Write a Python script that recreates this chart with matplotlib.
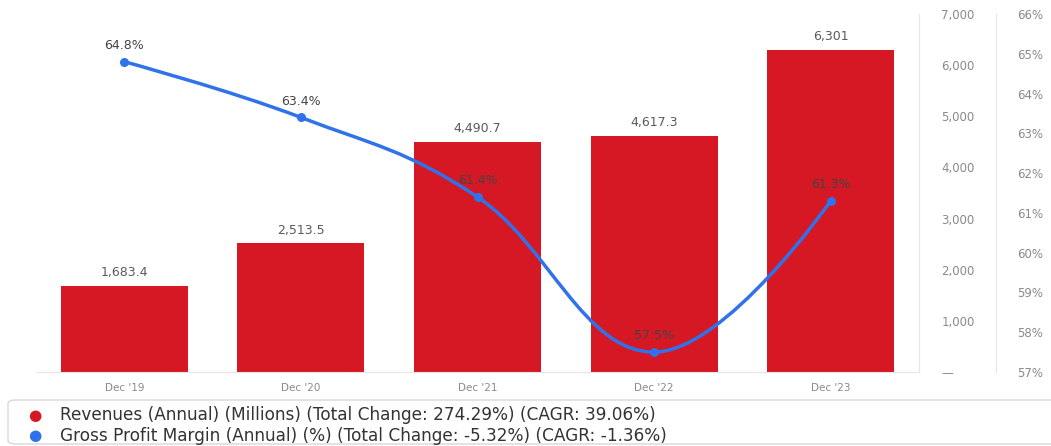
import numpy as np
import matplotlib
matplotlib.use('Agg')
import matplotlib.pyplot as plt
from matplotlib.patches import FancyBboxPatch
from matplotlib.path import Path
from matplotlib.patches import PathPatch
from matplotlib.ticker import FuncFormatter

# --- data ---
categories = ["Dec '19", "Dec '20", "Dec '21", "Dec '22", "Dec '23"]
revenues = [1683.4, 2513.5, 4490.7, 4617.3, 6301]
revenue_labels = ["1,683.4", "2,513.5", "4,490.7", "4,617.3", "6,301"]
gross_margin = [64.8, 63.4, 61.4, 57.5, 61.3]
legend_texts = [
    "Revenues (Annual) (Millions) (Total Change: 274.29%) (CAGR: 39.06%)",
    "Gross Profit Margin (Annual) (%) (Total Change: -5.32%) (CAGR: -1.36%)",
]

RED = '#D51823'
BLUE = '#2F72EA'
GRAY = '#5a5a5a'
plt.rcParams['font.family'] = ['DejaVu Sans']


def spline_path(xs, ys, smoothing=1.5):
    # highcharts-style spline: bezier control points per point
    n = len(xs)
    verts = [(xs[0], ys[0])]
    codes = [Path.MOVETO]
    conts = []
    for i in range(n):
        if i == 0 or i == n - 1:
            conts.append(((xs[i], ys[i]), (xs[i], ys[i])))
            continue
        lx, ly = xs[i - 1], ys[i - 1]
        nx, ny = xs[i + 1], ys[i + 1]
        x, y = xs[i], ys[i]
        d = smoothing + 1
        lcx = (smoothing * x + lx) / d
        lcy = (smoothing * y + ly) / d
        rcx = (smoothing * x + nx) / d
        rcy = (smoothing * y + ny) / d
        if rcx != lcx:
            corr = (rcy - lcy) * (rcx - x) / (rcx - lcx) + y - rcy
            lcy += corr
            rcy += corr
        if lcy > max(ly, y):
            lcy = max(ly, y); rcy = 2 * y - lcy
        elif lcy < min(ly, y):
            lcy = min(ly, y); rcy = 2 * y - lcy
        if rcy > max(ny, y):
            rcy = max(ny, y); lcy = 2 * y - rcy
        elif rcy < min(ny, y):
            rcy = min(ny, y); lcy = 2 * y - rcy
        conts.append(((lcx, lcy), (rcx, rcy)))
    for i in range(1, n):
        verts += [conts[i - 1][1], conts[i][0], (xs[i], ys[i])]
        codes += [Path.CURVE4] * 3
    return Path(verts, codes)


fig = plt.figure(figsize=(10.51, 4.46), dpi=100)
ax = fig.add_axes([36 / 1051, 1 - 372 / 446, (919 - 36) / 1051, (372 - 14) / 446])
ax2 = ax.twinx()

x = np.arange(len(categories))
ax.bar(x, revenues, width=0.72, color=RED, zorder=2)
for xi, v, lab in zip(x, revenues, revenue_labels):
    ax.annotate(lab, (xi, v), xytext=(0, 5), textcoords='offset points',
                ha='center', va='bottom', fontsize=9, color=GRAY)

ax.set_xlim(-0.5, len(categories) - 0.5)
ax.set_ylim(0, 7000)
ax.set_yticks(np.arange(0, 7001, 1000))
ax.yaxis.set_major_formatter(FuncFormatter(lambda v, p: '—' if v == 0 else f'{v:,.0f}'))
ax.yaxis.tick_right()
ax.tick_params(axis='y', length=0, pad=16, labelsize=8.5, labelcolor='#8a8a8a')
ax.set_xticks(x)
ax.set_xticklabels(categories)
ax.tick_params(axis='x', length=0, pad=8, labelsize=7.5, labelcolor='#8a8a8a')
for s in ['top', 'left']:
    ax.spines[s].set_visible(False)
ax.spines['right'].set_color('#e6e6e6')
ax.spines['bottom'].set_color('#e6e6e6')

ax2.set_ylim(57, 66)
ax2.set_yticks(np.arange(57, 67, 1))
ax2.yaxis.set_major_formatter(FuncFormatter(lambda v, p: f'{v:.0f}%'))
ax2.tick_params(axis='y', length=0, pad=15, labelsize=8.5, labelcolor='#8a8a8a')
ax2.spines['right'].set_position(('outward', 77 * 0.72))
ax2.spines['right'].set_color('#e6e6e6')
for s in ['top', 'left', 'bottom']:
    ax2.spines[s].set_visible(False)

path = spline_path(list(x.astype(float)), gross_margin)
ax2.add_patch(PathPatch(path, facecolor='none', edgecolor=BLUE, lw=2.5, zorder=3))
ax2.scatter(x, gross_margin, s=30, color=BLUE, zorder=4)
for xi, v in zip(x, gross_margin):
    ax2.annotate(f'{v}%', (xi, v), xytext=(0, 7), textcoords='offset points',
                 ha='center', va='bottom', fontsize=9, color='#444444', zorder=5)

# legend box
box = FancyBboxPatch((8 / 1051, 2 / 446), 1060 / 1051, 44 / 446,
                     boxstyle='round,pad=0,rounding_size=0.008',
                     transform=fig.transFigure, facecolor='white',
                     edgecolor='#d8d8d8', lw=1)
fig.patches.append(box)
for i, (txt, col) in enumerate(zip(legend_texts, [RED, BLUE])):
    yy = 1 - (415 + i * 21) / 446
    fig.text(35 / 1051, yy, '\u25CF', color=col, fontsize=11, ha='center', va='center')
    fig.text(60 / 1051, yy, txt, color='#333333', fontsize=12.2, ha='left', va='center')

fig.savefig('out.png', dpi=100)
